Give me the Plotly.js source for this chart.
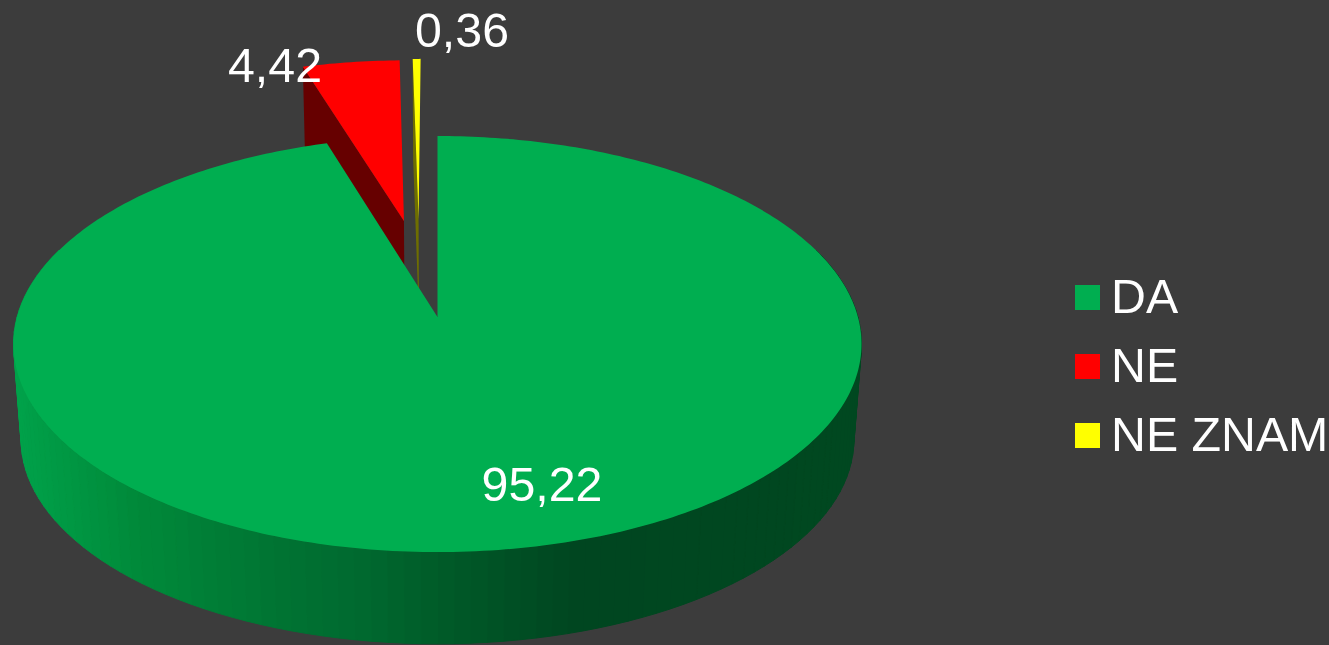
<!DOCTYPE html>
<html><head><meta charset="utf-8">
<script src="https://cdn.plot.ly/plotly-3.0.1.min.js"></script>
<style>html,body{margin:0;padding:0;background:#3c3c3c;overflow:hidden}#c{width:1329px;height:645px}</style>
</head><body><div id="c"></div>
<script>
// --- data ---
const categories = ["DA", "NE", "NE ZNAM"];
const values = [95.22, 4.42, 0.36];

// --- styling and layout ---
const topColors = ["#00AE50", "#FF0000", "#FFFF00"];
const wallColors = ["#004820", "#660000", "#6E6E00"];
const bg = "#3C3C3C";
const explode = [[0, 0], [-0.085, -0.5], [-0.048, -0.51]];
const labelPos = [[542, 489], [275, 70], [462, 35]];
const legendX = 1087.5, legendY = [297.5, 366.5, 435.5], legendTextX = 1111, legendTextDy = 3;
const fontFamily = "Liberation Sans, Arial, sans-serif";
const labelSize = 48.3;

// projection of the tilted pie plane on to the page
const P = {cx: 437.5, cy: 317, A: 420.4, B: 204.5, k: 0.13, s: 0.982, drop: 96};
function project(u, v, low) {
  const w = 1 - P.k * v, s = low ? P.s : 1;
  return [P.cx + s * P.A * u / w, P.cy + s * P.B * v / w + (low ? P.drop : 0)];
}
function rim(theta, off) { return [off[0] + Math.sin(theta), off[1] - Math.cos(theta)]; }

const total = values.reduce((a, b) => a + b, 0);
let acc = 0;
const spans = values.map(v => { const a = acc; acc += v; return [a / total * 2 * Math.PI, acc / total * 2 * Math.PI]; });

function poly(points, color, seam) {
  return {x: points.map(p => p[0]), y: points.map(p => p[1]), type: "scatter", mode: seam ? "lines" : "none",
    fill: "toself", fillcolor: color, line: seam ? {color: color, width: 1} : {width: 0},
    showlegend: false, hoverinfo: "skip"};
}
function topFace(i) {
  const [a, b] = spans[i], off = explode[i], n = Math.max(4, Math.ceil((b - a) / (2 * Math.PI) * 400));
  const pts = [project(off[0], off[1], false)];
  for (let j = 0; j <= n; j++) { const r = rim(a + (b - a) * j / n, off); pts.push(project(r[0], r[1], false)); }
  pts.push(pts[0]);
  return poly(pts, topColors[i]);
}
function cutWall(i) {
  const a = spans[i][0], off = explode[i], r = rim(a, off);
  return poly([project(off[0], off[1], false), project(r[0], r[1], false),
               project(r[0], r[1], true), project(off[0], off[1], true), project(off[0], off[1], false)], wallColors[i]);
}
// side-wall shading of the big slice, by page x
const shadeStops = [[13, [0, 162, 74]], [133, [0, 138, 58]], [267, [0, 117, 51]], [367, [0, 104, 47]],
                    [433, [0, 92, 41]], [573, [0, 70, 32]], [870, [0, 72, 32]]];
function shade(x) {
  for (let i = 1; i < shadeStops.length; i++) {
    if (x <= shadeStops[i][0]) {
      const [x0, c0] = shadeStops[i - 1], [x1, c1] = shadeStops[i], t = Math.max(0, (x - x0) / (x1 - x0));
      return "rgb(" + c0.map((c, j) => Math.round(c + (c1[j] - c) * t)).join(",") + ")";
    }
  }
  return "rgb(0,72,32)";
}
function sideWall() {
  const out = [], n = 110, t0 = 70 * Math.PI / 180, t1 = 290 * Math.PI / 180;
  for (let j = 0; j < n; j++) {
    const a = rim(t0 + (t1 - t0) * j / n, [0, 0]), b = rim(t0 + (t1 - t0) * (j + 1) / n, [0, 0]);
    const p = [project(a[0], a[1], false), project(b[0], b[1], false), project(b[0], b[1], true), project(a[0], a[1], true)];
    p.push(p[0]);
    out.push(poly(p, shade((p[0][0] + p[1][0]) / 2), true));
  }
  return out;
}
const labelTrace = {
  x: labelPos.map(p => p[0]), y: labelPos.map(p => p[1]),
  text: values.map(v => v.toFixed(2).replace(".", ",")),
  type: "scatter", mode: "text", textposition: "middle center",
  textfont: {family: fontFamily, size: labelSize, color: "#FFFFFF"}, showlegend: false, hoverinfo: "skip"
};
const legendMarks = categories.map((c, i) => ({
  x: [legendX], y: [legendY[i]], name: c, type: "scatter", mode: "markers",
  marker: {symbol: "square", size: 25, color: topColors[i], line: {width: 0}},
  showlegend: false, hoverinfo: "skip"
}));
const legendText = {
  x: categories.map(() => legendTextX), y: legendY.map(y => y + legendTextDy), text: categories,
  type: "scatter", mode: "text", textposition: "middle right", cliponaxis: false,
  textfont: {family: fontFamily, size: labelSize, color: "#FFFFFF"}, showlegend: false, hoverinfo: "skip"
};

const traces = [cutWall(1), topFace(1), cutWall(2), topFace(2), ...sideWall(), topFace(0), labelTrace, ...legendMarks, legendText];
const layout = {
  width: 1329, height: 645, margin: {l: 0, r: 0, t: 0, b: 0}, paper_bgcolor: bg, plot_bgcolor: bg, showlegend: false,
  hovermode: false,
  xaxis: {range: [0, 1329], visible: false, fixedrange: true},
  yaxis: {range: [645, 0], visible: false, fixedrange: true}
};
Plotly.newPlot("c", traces, layout, {displayModeBar: false, staticPlot: true});
</script></body></html>
